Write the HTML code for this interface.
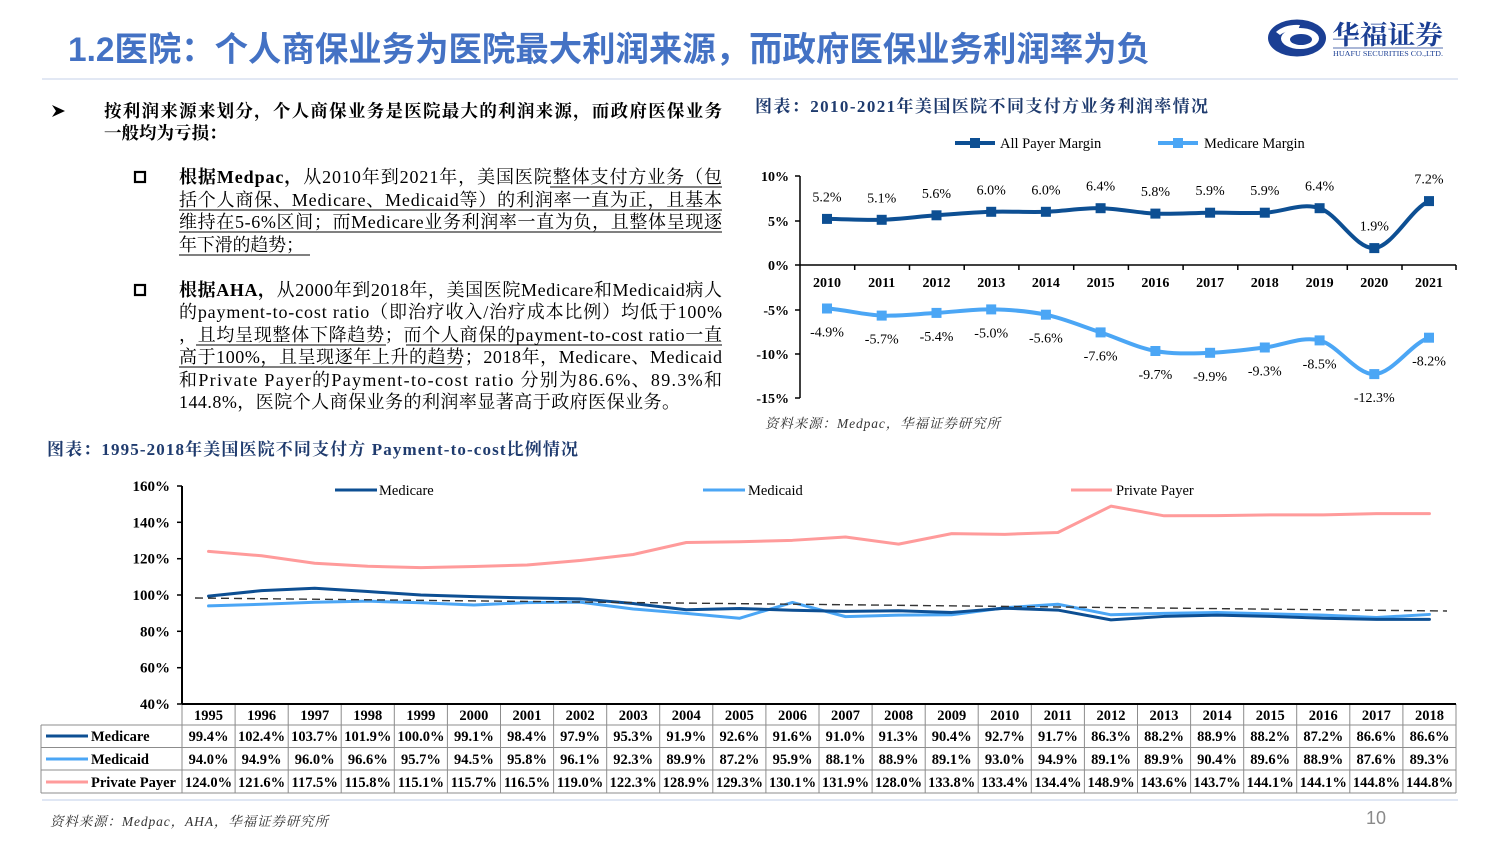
<!DOCTYPE html>
<html><head><meta charset="utf-8">
<style>
html,body{margin:0;padding:0;background:#fff;}
svg{display:block;}
.serif{font-family:"Liberation Serif","Noto Serif CJK SC",serif;}
.sans{font-family:"Liberation Sans","Noto Sans CJK SC",sans-serif;}
</style></head>
<body>
<svg width="1500" height="844" viewBox="0 0 1500 844" xmlns="http://www.w3.org/2000/svg">
<rect width="1500" height="844" fill="#fff"/>

<!-- Title -->
<text class="sans" x="68" y="61" font-size="34" font-weight="bold" fill="#4472c4" textLength="1082" lengthAdjust="spacingAndGlyphs">1.2医院：个人商保业务为医院最大利润来源，而政府医保业务利润率为负</text>
<line x1="42" y1="79" x2="1458" y2="79" stroke="#d9e1f0" stroke-width="1.5"/>

<!-- Logo -->
<ellipse cx="1297" cy="38" rx="29" ry="18.5" fill="#1b3f94"/>
<ellipse cx="1300" cy="38.5" rx="19" ry="10.5" fill="#fff"/>
<ellipse cx="1301" cy="39.5" rx="11" ry="5.5" fill="#1b3f94"/>
<path d="M1276,32 Q1285,24 1300,25 L1298,30 Q1286,30 1280,35 Z" fill="#fff"/>
<text class="serif" x="1332" y="44" font-size="26" font-weight="bold" fill="#1b3f94" textLength="111" lengthAdjust="spacingAndGlyphs">华福证券</text>
<line x1="1333" y1="48" x2="1443" y2="48" stroke="#1b3f94" stroke-width="0.8"/>
<text class="serif" x="1333" y="56" font-size="7" fill="#1b3f94" textLength="110" lengthAdjust="spacingAndGlyphs">HUAFU SECURITIES CO.,LTD.</text>

<!-- Left text -->
<polygon points="52,105 65,111 52,117 56,111" fill="#000"/>
<g class="serif" fill="#000">
<text x="104" y="117" font-size="17.5" font-weight="bold" textLength="618" lengthAdjust="spacing">按利润来源来划分，个人商保业务是医院最大的利润来源，而政府医保业务</text>
<text x="104" y="139" font-size="17.5" font-weight="bold">一般均为亏损：</text>

<rect x="135" y="172" width="10" height="10" fill="none" stroke="#000" stroke-width="2.2"/>
<text x="179" y="183" font-size="18" textLength="543" lengthAdjust="spacing"><tspan font-weight="bold">根据Medpac，</tspan>从2010年到2021年，美国医院整体支付方业务（包</text>
<text x="179" y="206" font-size="18" textLength="543" lengthAdjust="spacing">括个人商保、Medicare、Medicaid等）的利润率一直为正，且基本</text>
<text x="179" y="228" font-size="18" textLength="543" lengthAdjust="spacing">维持在5-6%区间；而Medicare业务利润率一直为负，且整体呈现逐</text>
<text x="179" y="251" font-size="18" textLength="125" lengthAdjust="spacing">年下滑的趋势；</text>
<g stroke="#000" stroke-width="1">
<line x1="550" y1="187" x2="722" y2="187"/>
<line x1="179" y1="210" x2="722" y2="210"/>
<line x1="179" y1="232" x2="722" y2="232"/>
<line x1="179" y1="255" x2="310" y2="255"/>
</g>

<rect x="135" y="285" width="10" height="10" fill="none" stroke="#000" stroke-width="2.2"/>
<text x="179" y="296" font-size="18" textLength="543" lengthAdjust="spacing"><tspan font-weight="bold">根据AHA，</tspan>从2000年到2018年，美国医院Medicare和Medicaid病人</text>
<text x="179" y="318" font-size="18" textLength="543" lengthAdjust="spacing">的payment-to-cost ratio（即治疗收入/治疗成本比例）均低于100%</text>
<text x="179" y="341" font-size="18" textLength="543" lengthAdjust="spacing">，且均呈现整体下降趋势；而个人商保的payment-to-cost ratio一直</text>
<text x="179" y="363" font-size="18" textLength="543" lengthAdjust="spacing">高于100%，且呈现逐年上升的趋势；2018年，Medicare、Medicaid</text>
<text x="179" y="386" font-size="18" textLength="543" lengthAdjust="spacing">和Private Payer的Payment-to-cost ratio 分别为86.6%、89.3%和</text>
<text x="179" y="408" font-size="18" textLength="501" lengthAdjust="spacing">144.8%，医院个人商保业务的利润率显著高于政府医保业务。</text>
<g stroke="#000" stroke-width="1">
<line x1="196" y1="345" x2="386" y2="345"/>
<line x1="406" y1="345" x2="722" y2="345"/>
<line x1="179" y1="367" x2="462" y2="367"/>
</g>
</g>

<!-- Top right chart -->
<text class="serif" x="755" y="112" font-size="17" font-weight="bold" fill="#1f3b6e" textLength="453" lengthAdjust="spacing">图表：2010-2021年美国医院不同支付方业务利润率情况</text>

<!-- legend -->
<line x1="955" y1="143" x2="995" y2="143" stroke="#0d4f93" stroke-width="4"/>
<rect x="970" y="138" width="10" height="10" fill="#0d4f93"/>
<text class="serif" x="1000" y="148" font-size="14.5" fill="#000">All Payer Margin</text>
<line x1="1158" y1="143" x2="1198" y2="143" stroke="#4ba6f5" stroke-width="4"/>
<rect x="1173" y="138" width="10" height="10" fill="#4ba6f5"/>
<text class="serif" x="1204" y="148" font-size="14.5" fill="#000">Medicare Margin</text>

<!-- axes -->
<g stroke="#000" stroke-width="1.5">
<line x1="800" y1="176" x2="800" y2="398"/>
<line x1="795" y1="176" x2="800" y2="176"/>
<line x1="795" y1="221" x2="800" y2="221"/>
<line x1="795" y1="265" x2="800" y2="265"/>
<line x1="795" y1="310" x2="800" y2="310"/>
<line x1="795" y1="354" x2="800" y2="354"/>
<line x1="795" y1="398" x2="800" y2="398"/>
<line x1="800" y1="265" x2="1456" y2="265"/>
<line x1="854.7" y1="265" x2="854.7" y2="270"/>
<line x1="909.5" y1="265" x2="909.5" y2="270"/>
<line x1="964.2" y1="265" x2="964.2" y2="270"/>
<line x1="1018.9" y1="265" x2="1018.9" y2="270"/>
<line x1="1073.7" y1="265" x2="1073.7" y2="270"/>
<line x1="1128.4" y1="265" x2="1128.4" y2="270"/>
<line x1="1183.1" y1="265" x2="1183.1" y2="270"/>
<line x1="1237.8" y1="265" x2="1237.8" y2="270"/>
<line x1="1292.6" y1="265" x2="1292.6" y2="270"/>
<line x1="1347.3" y1="265" x2="1347.3" y2="270"/>
<line x1="1402" y1="265" x2="1402" y2="270"/>
<line x1="1456" y1="265" x2="1456" y2="270"/>
</g>
<g class="serif" font-size="14" font-weight="bold" text-anchor="end" fill="#000">
<text x="789" y="181">10%</text>
<text x="789" y="226">5%</text>
<text x="789" y="270">0%</text>
<text x="789" y="315">-5%</text>
<text x="789" y="359">-10%</text>
<text x="789" y="403">-15%</text>
</g>
<g class="serif" font-size="14" font-weight="bold" text-anchor="middle" fill="#000">
<text x="827" y="287">2010</text>
<text x="881.7" y="287">2011</text>
<text x="936.5" y="287">2012</text>
<text x="991.2" y="287">2013</text>
<text x="1045.9" y="287">2014</text>
<text x="1100.6" y="287">2015</text>
<text x="1155.4" y="287">2016</text>
<text x="1210.1" y="287">2017</text>
<text x="1264.8" y="287">2018</text>
<text x="1319.6" y="287">2019</text>
<text x="1374.3" y="287">2020</text>
<text x="1429" y="287">2021</text>
</g>

<!-- All payer line -->
<path d="M827,218.9 C845.2,219.05 863.5,220.4 881.7,219.8 C899.9,219.2 918.2,216.6 936.5,215.3 C954.7,214.0 973.0,212.4 991.2,211.8 C1009.4,211.2 1027.7,212.4 1045.9,211.8 C1064.1,211.2 1082.4,207.9 1100.6,208.2 C1118.8,208.5 1137.1,212.85 1155.4,213.6 C1173.6,214.35 1191.9,212.85 1210.1,212.7 C1228.3,212.55 1246.6,213.45 1264.8,212.7 C1283.0,211.95 1301.4,202.3 1319.6,208.2 C1337.8,214.1 1356.1,249.3 1374.3,248.1 C1392.5,246.9 1410.8,208.9 1429,201.1" fill="none" stroke="#0d4f93" stroke-width="4"/>
<g fill="#0d4f93">
<rect x="822" y="213.9" width="10" height="10"/>
<rect x="876.7" y="214.8" width="10" height="10"/>
<rect x="931.5" y="210.3" width="10" height="10"/>
<rect x="986.2" y="206.8" width="10" height="10"/>
<rect x="1040.9" y="206.8" width="10" height="10"/>
<rect x="1095.6" y="203.2" width="10" height="10"/>
<rect x="1150.4" y="208.6" width="10" height="10"/>
<rect x="1205.1" y="207.7" width="10" height="10"/>
<rect x="1259.8" y="207.7" width="10" height="10"/>
<rect x="1314.6" y="203.2" width="10" height="10"/>
<rect x="1369.3" y="243.1" width="10" height="10"/>
<rect x="1424" y="196.1" width="10" height="10"/>
</g>
<!-- Medicare margin line -->
<path d="M827,308.5 C845.2,309.7 863.5,314.9 881.7,315.6 C899.9,316.3 918.2,313.9 936.5,312.9 C954.7,311.9 973.0,309.1 991.2,309.4 C1009.4,309.7 1027.7,310.9 1045.9,314.7 C1064.1,318.5 1082.4,326.4 1100.6,332.4 C1118.8,338.5 1137.1,347.6 1155.4,351.0 C1173.6,354.4 1191.9,353.4 1210.1,352.8 C1228.3,352.2 1246.6,349.6 1264.8,347.5 C1283.0,345.4 1301.4,336.0 1319.6,340.4 C1337.8,344.8 1356.1,374.6 1374.3,374.1 C1392.5,373.7 1410.8,343.8 1429,337.7" fill="none" stroke="#4ba6f5" stroke-width="4"/>
<g fill="#4ba6f5">
<rect x="822" y="303.5" width="10" height="10"/>
<rect x="876.7" y="310.6" width="10" height="10"/>
<rect x="931.5" y="307.9" width="10" height="10"/>
<rect x="986.2" y="304.4" width="10" height="10"/>
<rect x="1040.9" y="309.7" width="10" height="10"/>
<rect x="1095.6" y="327.4" width="10" height="10"/>
<rect x="1150.4" y="346" width="10" height="10"/>
<rect x="1205.1" y="347.8" width="10" height="10"/>
<rect x="1259.8" y="342.5" width="10" height="10"/>
<rect x="1314.6" y="335.4" width="10" height="10"/>
<rect x="1369.3" y="369.1" width="10" height="10"/>
<rect x="1424" y="332.7" width="10" height="10"/>
</g>
<!-- data labels -->
<g class="serif" font-size="14" text-anchor="middle" fill="#000">
<text x="827" y="201.5">5.2%</text>
<text x="881.7" y="202.3">5.1%</text>
<text x="936.5" y="197.8">5.6%</text>
<text x="991.2" y="194.3">6.0%</text>
<text x="1045.9" y="194.3">6.0%</text>
<text x="1100.6" y="190.7">6.4%</text>
<text x="1155.4" y="196.1">5.8%</text>
<text x="1210.1" y="195.2">5.9%</text>
<text x="1264.8" y="195.2">5.9%</text>
<text x="1319.6" y="190.7">6.4%</text>
<text x="1374.3" y="230.6">1.9%</text>
<text x="1429" y="183.6">7.2%</text>

<text x="827" y="336.5">-4.9%</text>
<text x="881.7" y="343.6">-5.7%</text>
<text x="936.5" y="340.9">-5.4%</text>
<text x="991.2" y="337.4">-5.0%</text>
<text x="1045.9" y="342.7">-5.6%</text>
<text x="1100.6" y="360.4">-7.6%</text>
<text x="1155.4" y="379">-9.7%</text>
<text x="1210.1" y="380.8">-9.9%</text>
<text x="1264.8" y="375.5">-9.3%</text>
<text x="1319.6" y="368.4">-8.5%</text>
<text x="1374.3" y="402.1">-12.3%</text>
<text x="1429" y="365.7">-8.2%</text>
</g>
<text class="serif" x="765" y="428" font-size="13.5" font-style="italic" fill="#333" textLength="235" lengthAdjust="spacing">资料来源：Medpac，华福证券研究所</text>

<!-- Bottom chart -->
<text class="serif" x="47" y="455" font-size="17" font-weight="bold" fill="#1f3b6e" textLength="531" lengthAdjust="spacing">图表：1995-2018年美国医院不同支付方 Payment-to-cost比例情况</text>

<!-- legend -->
<line x1="335" y1="490" x2="377" y2="490" stroke="#0d4f93" stroke-width="3"/>
<text class="serif" x="379" y="495" font-size="14.5" fill="#000">Medicare</text>
<line x1="703" y1="490" x2="745" y2="490" stroke="#4ba6f5" stroke-width="3"/>
<text class="serif" x="748" y="495" font-size="14.5" fill="#000">Medicaid</text>
<line x1="1071" y1="490" x2="1112" y2="490" stroke="#ff9b9b" stroke-width="3"/>
<text class="serif" x="1116" y="495" font-size="14.5" fill="#000">Private Payer</text>

<!-- axis -->
<line x1="182" y1="486" x2="182" y2="705" stroke="#000" stroke-width="2"/>
<g stroke="#000" stroke-width="1.5">
<line x1="177" y1="486" x2="182" y2="486"/>
<line x1="177" y1="522.3" x2="182" y2="522.3"/>
<line x1="177" y1="558.7" x2="182" y2="558.7"/>
<line x1="177" y1="595" x2="182" y2="595"/>
<line x1="177" y1="631.3" x2="182" y2="631.3"/>
<line x1="177" y1="667.7" x2="182" y2="667.7"/>
<line x1="177" y1="704" x2="182" y2="704"/>
</g>
<g class="serif" font-size="15" font-weight="bold" text-anchor="end" fill="#000">
<text x="170" y="491">160%</text>
<text x="170" y="527.3">140%</text>
<text x="170" y="563.7">120%</text>
<text x="170" y="600">100%</text>
<text x="170" y="636.3">80%</text>
<text x="170" y="672.7">60%</text>
<text x="170" y="709">40%</text>
</g>

<!-- series (data coordinates) -->
<g transform="translate(208.54,704) scale(53.083,-1.8167) translate(0,-40)" fill="none" stroke-linejoin="round" stroke-linecap="round">
<polyline vector-effect="non-scaling-stroke" stroke="#ff9b9b" stroke-width="3" points="0,124.0 1,121.6 2,117.5 3,115.8 4,115.1 5,115.7 6,116.5 7,119.0 8,122.3 9,128.9 10,129.3 11,130.1 12,131.9 13,128.0 14,133.8 15,133.4 16,134.4 17,148.9 18,143.6 19,143.7 20,144.1 21,144.1 22,144.8 23,144.8"/>
<polyline vector-effect="non-scaling-stroke" stroke="#4ba6f5" stroke-width="3" points="0,94.0 1,94.9 2,96.0 3,96.6 4,95.7 5,94.5 6,95.8 7,96.1 8,92.3 9,89.9 10,87.2 11,95.9 12,88.1 13,88.9 14,89.1 15,93.0 16,94.9 17,89.1 18,89.9 19,90.4 20,89.6 21,88.9 22,87.6 23,89.3"/>
<polyline vector-effect="non-scaling-stroke" stroke="#0d4f93" stroke-width="3" points="0,99.4 1,102.4 2,103.7 3,101.9 4,100.0 5,99.1 6,98.4 7,97.9 8,95.3 9,91.9 10,92.6 11,91.6 12,91.0 13,91.3 14,90.4 15,92.7 16,91.7 17,86.3 18,88.2 19,88.9 20,88.2 21,87.2 22,86.6 23,86.6"/>
</g>
<line x1="195" y1="598" x2="1447" y2="611" stroke="#333" stroke-width="1.4" stroke-dasharray="8,5"/>

<!-- Table -->
<g stroke="#8c8c8c" stroke-width="1" fill="none">
<line x1="41" y1="725" x2="1456" y2="725"/>
<line x1="41" y1="747.5" x2="1456" y2="747.5"/>
<line x1="41" y1="770" x2="1456" y2="770"/>
<line x1="41" y1="793" x2="1456" y2="793"/>
<line x1="41" y1="725" x2="41" y2="793"/>
<line x1="182" y1="704" x2="182" y2="793"/>
<line x1="235.1" y1="704" x2="235.1" y2="793"/>
<line x1="288.2" y1="704" x2="288.2" y2="793"/>
<line x1="341.2" y1="704" x2="341.2" y2="793"/>
<line x1="394.3" y1="704" x2="394.3" y2="793"/>
<line x1="447.4" y1="704" x2="447.4" y2="793"/>
<line x1="500.5" y1="704" x2="500.5" y2="793"/>
<line x1="553.6" y1="704" x2="553.6" y2="793"/>
<line x1="606.7" y1="704" x2="606.7" y2="793"/>
<line x1="659.7" y1="704" x2="659.7" y2="793"/>
<line x1="712.8" y1="704" x2="712.8" y2="793"/>
<line x1="765.9" y1="704" x2="765.9" y2="793"/>
<line x1="819" y1="704" x2="819" y2="793"/>
<line x1="872.1" y1="704" x2="872.1" y2="793"/>
<line x1="925.2" y1="704" x2="925.2" y2="793"/>
<line x1="978.2" y1="704" x2="978.2" y2="793"/>
<line x1="1031.3" y1="704" x2="1031.3" y2="793"/>
<line x1="1084.4" y1="704" x2="1084.4" y2="793"/>
<line x1="1137.5" y1="704" x2="1137.5" y2="793"/>
<line x1="1190.6" y1="704" x2="1190.6" y2="793"/>
<line x1="1243.7" y1="704" x2="1243.7" y2="793"/>
<line x1="1296.7" y1="704" x2="1296.7" y2="793"/>
<line x1="1349.8" y1="704" x2="1349.8" y2="793"/>
<line x1="1402.9" y1="704" x2="1402.9" y2="793"/>
<line x1="1456" y1="704" x2="1456" y2="793"/>
</g>
<line x1="182" y1="704" x2="1456" y2="704" stroke="#000" stroke-width="2"/>

<line x1="46" y1="736" x2="88" y2="736" stroke="#0d4f93" stroke-width="3"/>
<line x1="46" y1="759" x2="88" y2="759" stroke="#4ba6f5" stroke-width="3"/>
<line x1="46" y1="782" x2="88" y2="782" stroke="#ff9b9b" stroke-width="3"/>
<g class="serif" font-size="14.5" font-weight="bold" fill="#000">
<text x="91" y="741">Medicare</text>
<text x="91" y="764">Medicaid</text>
<text x="91" y="787">Private Payer</text>
</g>

<g class="serif" font-size="14.5" font-weight="bold" fill="#000" text-anchor="middle">
<text x="208.5" y="720">1995</text><text x="261.6" y="720">1996</text><text x="314.7" y="720">1997</text><text x="367.8" y="720">1998</text><text x="420.9" y="720">1999</text><text x="473.9" y="720">2000</text><text x="527" y="720">2001</text><text x="580.1" y="720">2002</text><text x="633.2" y="720">2003</text><text x="686.3" y="720">2004</text><text x="739.4" y="720">2005</text><text x="792.5" y="720">2006</text><text x="845.5" y="720">2007</text><text x="898.6" y="720">2008</text><text x="951.7" y="720">2009</text><text x="1004.8" y="720">2010</text><text x="1057.9" y="720">2011</text><text x="1111" y="720">2012</text><text x="1164" y="720">2013</text><text x="1217.1" y="720">2014</text><text x="1270.2" y="720">2015</text><text x="1323.3" y="720">2016</text><text x="1376.4" y="720">2017</text><text x="1429.5" y="720">2018</text>
</g>
<g class="serif" font-size="14.5" font-weight="bold" fill="#000" text-anchor="middle" textLength="48">
<text x="208.5" y="741">99.4%</text><text x="261.6" y="741">102.4%</text><text x="314.7" y="741">103.7%</text><text x="367.8" y="741">101.9%</text><text x="420.9" y="741">100.0%</text><text x="473.9" y="741">99.1%</text><text x="527" y="741">98.4%</text><text x="580.1" y="741">97.9%</text><text x="633.2" y="741">95.3%</text><text x="686.3" y="741">91.9%</text><text x="739.4" y="741">92.6%</text><text x="792.5" y="741">91.6%</text><text x="845.5" y="741">91.0%</text><text x="898.6" y="741">91.3%</text><text x="951.7" y="741">90.4%</text><text x="1004.8" y="741">92.7%</text><text x="1057.9" y="741">91.7%</text><text x="1111" y="741">86.3%</text><text x="1164" y="741">88.2%</text><text x="1217.1" y="741">88.9%</text><text x="1270.2" y="741">88.2%</text><text x="1323.3" y="741">87.2%</text><text x="1376.4" y="741">86.6%</text><text x="1429.5" y="741">86.6%</text>
<text x="208.5" y="764">94.0%</text><text x="261.6" y="764">94.9%</text><text x="314.7" y="764">96.0%</text><text x="367.8" y="764">96.6%</text><text x="420.9" y="764">95.7%</text><text x="473.9" y="764">94.5%</text><text x="527" y="764">95.8%</text><text x="580.1" y="764">96.1%</text><text x="633.2" y="764">92.3%</text><text x="686.3" y="764">89.9%</text><text x="739.4" y="764">87.2%</text><text x="792.5" y="764">95.9%</text><text x="845.5" y="764">88.1%</text><text x="898.6" y="764">88.9%</text><text x="951.7" y="764">89.1%</text><text x="1004.8" y="764">93.0%</text><text x="1057.9" y="764">94.9%</text><text x="1111" y="764">89.1%</text><text x="1164" y="764">89.9%</text><text x="1217.1" y="764">90.4%</text><text x="1270.2" y="764">89.6%</text><text x="1323.3" y="764">88.9%</text><text x="1376.4" y="764">87.6%</text><text x="1429.5" y="764">89.3%</text>
<text x="208.5" y="787">124.0%</text><text x="261.6" y="787">121.6%</text><text x="314.7" y="787">117.5%</text><text x="367.8" y="787">115.8%</text><text x="420.9" y="787">115.1%</text><text x="473.9" y="787">115.7%</text><text x="527" y="787">116.5%</text><text x="580.1" y="787">119.0%</text><text x="633.2" y="787">122.3%</text><text x="686.3" y="787">128.9%</text><text x="739.4" y="787">129.3%</text><text x="792.5" y="787">130.1%</text><text x="845.5" y="787">131.9%</text><text x="898.6" y="787">128.0%</text><text x="951.7" y="787">133.8%</text><text x="1004.8" y="787">133.4%</text><text x="1057.9" y="787">134.4%</text><text x="1111" y="787">148.9%</text><text x="1164" y="787">143.6%</text><text x="1217.1" y="787">143.7%</text><text x="1270.2" y="787">144.1%</text><text x="1323.3" y="787">144.1%</text><text x="1376.4" y="787">144.8%</text><text x="1429.5" y="787">144.8%</text>
</g>

<line x1="42" y1="800" x2="1458" y2="800" stroke="#d6dff0" stroke-width="1.5"/>
<text class="serif" x="50" y="826" font-size="13.5" font-style="italic" fill="#333" textLength="278" lengthAdjust="spacing">资料来源：Medpac，AHA，华福证券研究所</text>
<text class="sans" x="1366" y="824" font-size="18" fill="#8a8a8a">10</text>
</svg>
</body></html>
